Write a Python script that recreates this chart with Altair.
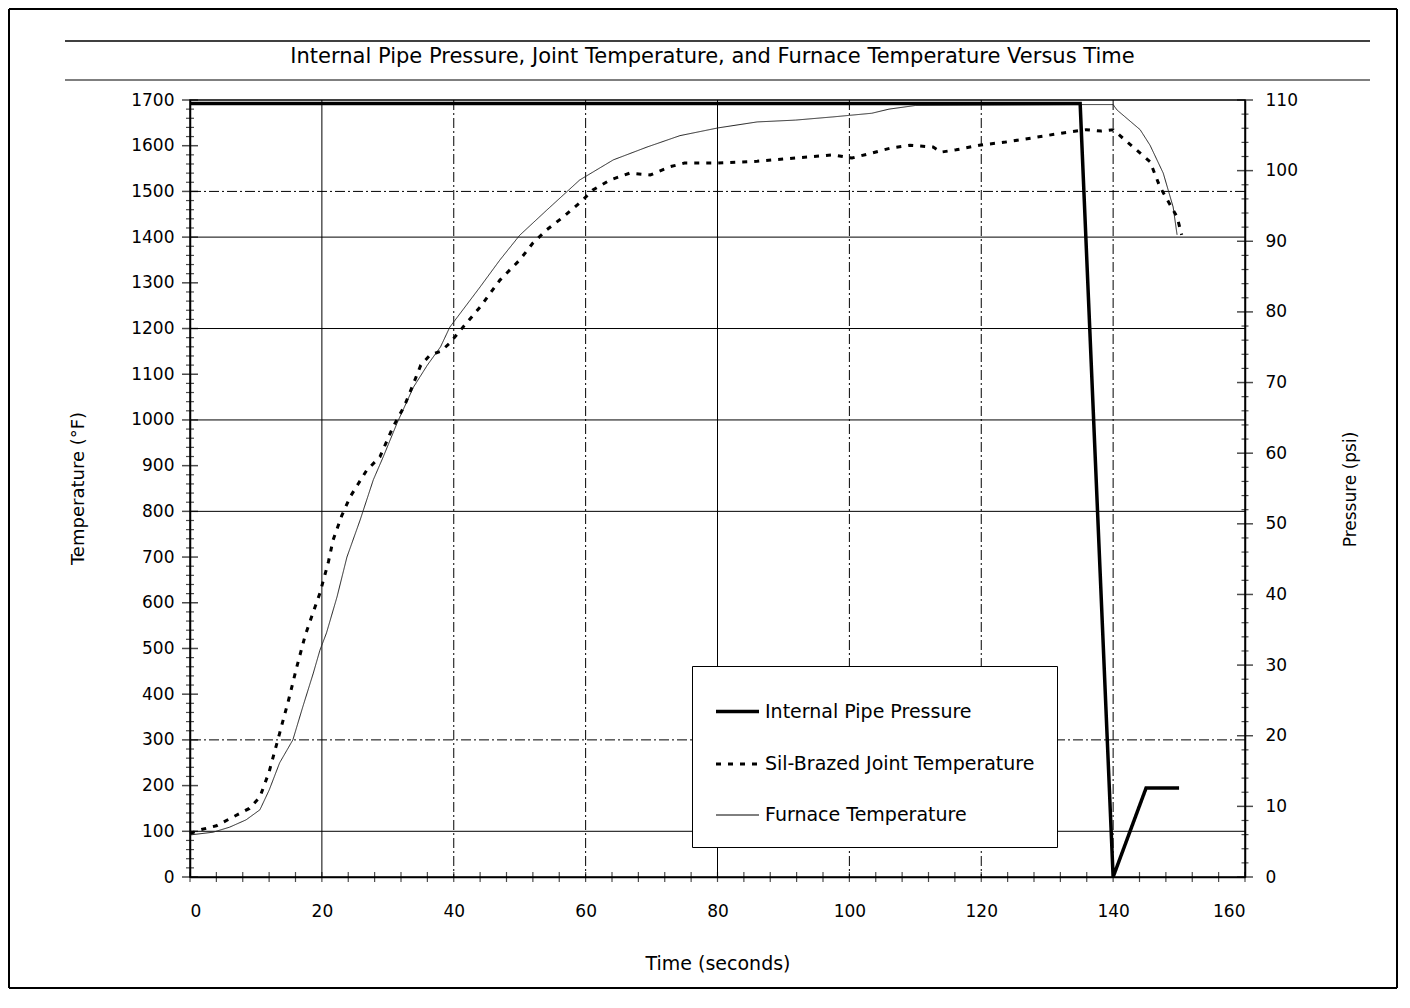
import altair as alt
import pandas as pd

FONT = "DejaVu Sans"

# ---------------- data ----------------
series_names = ["Internal Pipe Pressure", "Sil-Brazed Joint Temperature", "Furnace Temperature"]

press_t = [0, 135, 140, 145, 150]
press_v = [109.5, 109.5, 0, 12.6, 12.6]

joint_t = [0, 1.5, 4, 6.5, 9, 10.6, 12, 13.6, 15, 16.2, 17.5, 18.7, 19.7, 21, 21.7,
           23, 24.3, 25.5, 26.8, 28.8, 30.8, 32.5, 33.9, 35, 36.4, 38, 39.4, 41.4, 44, 47,
           50, 52, 54.1, 56.6, 59.1, 61.1, 63.7, 66.7, 69.8, 72.8, 75, 80, 86, 91.8, 97.5,
           100.4, 103.4, 106.3, 109.2, 112.7, 113.9, 116.2, 119.7, 123.7, 127.7, 132.4,
           135.9, 138.2, 140, 145.6, 147.1, 149.7, 150.4]
joint_v = [95, 103, 112, 131, 150, 175, 230, 315, 390, 460, 530, 580, 621, 690, 737,
           790, 832, 860, 890, 919, 985, 1030, 1080, 1120, 1142, 1150, 1168, 1203, 1247, 1306,
           1350, 1387, 1416, 1444, 1475, 1503, 1525, 1540, 1536, 1554, 1562, 1562, 1566, 1573, 1580,
           1573, 1584, 1595, 1601, 1597, 1586, 1591, 1601, 1608, 1617, 1628,
           1635, 1632, 1635, 1565, 1510, 1444, 1405]

furn_t = [0, 3.5, 6, 8.5, 10.6, 12, 13.6, 15.6, 17.1, 18.7, 19.7, 20.7, 22.3, 23.8, 25.8,
          27.8, 29.3, 31.4, 33.9, 36, 38, 39.4, 44, 47, 50, 54.1, 59.1, 64.2, 69.3, 74.3,
          80.1, 86, 91.8, 97.5, 103.4, 106, 110, 135, 140, 140.6, 144.1, 145.6, 147.6, 149.1, 149.7]
furn_v = [92, 98, 109, 125, 147, 190, 250, 300, 372, 446, 496, 534, 613, 700, 781,
          869, 919, 993, 1072, 1120, 1160, 1203, 1291, 1350, 1404, 1459, 1525, 1569, 1597, 1622,
          1639, 1652, 1656, 1663, 1671, 1680, 1688, 1690, 1690, 1678, 1635, 1601, 1540, 1466, 1405]

x_ticks = [0, 20, 40, 60, 80, 100, 120, 140, 160]
temp_ticks = [0, 100, 200, 300, 400, 500, 600, 700, 800, 900, 1000, 1100, 1200, 1300, 1400, 1500, 1600, 1700]
press_ticks = [0, 10, 20, 30, 40, 50, 60, 70, 80, 90, 100, 110]

grid_temp_solid = [100, 800, 1000, 1200, 1400]
grid_temp_dash = [300, 1500]
grid_time_solid = [20, 80]
grid_time_dash = [40, 60, 100, 120, 140]

title_text = "Internal Pipe Pressure, Joint Temperature, and Furnace Temperature Versus Time"

# ---------------- tables ----------------
df_press = pd.DataFrame({"t": press_t, "p": press_v, "series": series_names[0]})
df_joint = pd.DataFrame({"t": joint_t, "temp": joint_v, "series": series_names[1]})
df_furn = pd.DataFrame({"t": furn_t, "temp": furn_v, "series": series_names[2]})

minor_temp = [v for v in range(0, 1701, 20) if v % 100 != 0]
minor_press = [v for v in range(0, 111, 2) if v % 10 != 0]
minor_time = list(range(0, 161, 4))

df_lt_major = pd.DataFrame({"t": 0, "temp": temp_ticks})
df_lt_minor = pd.DataFrame({"t": 0, "temp": minor_temp})
df_xt = pd.DataFrame({"t": minor_time, "temp": 0})
df_rt_major = pd.DataFrame({"t": 160, "p": press_ticks})
df_rt_minor = pd.DataFrame({"t": 160, "p": minor_press})

W, H = 1055, 777

x_scale = alt.Scale(domain=[0, 160], nice=False, zero=False)
t_scale = alt.Scale(domain=[0, 1700], nice=False)
p_scale = alt.Scale(domain=[0, 110], nice=False)

x_axis = alt.Axis(values=x_ticks, format="d", title="Time (seconds)", labelFontSize=17, labelPadding=26,
                  titleFontSize=19, titleX=W / 2, titleY=86, titleBaseline="middle")
t_axis = alt.Axis(values=temp_ticks, format="d", title="Temperature (°F)", labelFontSize=17, labelPadding=16,
                  titleFontSize=18, titleAngle=270, titleX=-112, titleY=388,
                  titleBaseline="middle", titleAlign="center")
p_axis = alt.Axis(values=press_ticks, format="d", orient="right", title="Pressure (psi)", labelFontSize=17,
                  labelPadding=20, titleFontSize=17, titleAngle=270, titleX=105, titleY=389,
                  titleBaseline="middle", titleAlign="center")

X = alt.X("t:Q", scale=x_scale, axis=x_axis)
YT = alt.Y("temp:Q", scale=t_scale, axis=t_axis)
YP = alt.Y("p:Q", scale=p_scale, axis=p_axis)

legend = alt.Legend(title=None, orient="none", legendX=502, legendY=566, padding=22,
                    strokeColor="black", fillColor="white", symbolType="stroke",
                    symbolSize=1849, symbolStrokeColor="black", labelFontSize=19,
                    labelFont=FONT, labelColor="black", labelOffset=4, rowPadding=19,
                    labelLimit=500)
dash = alt.StrokeDash("series:N",
                      scale=alt.Scale(type="ordinal", domain=series_names, range=[[1, 0], [5, 7], [1, 0]]),
                      legend=legend)
swidth = alt.StrokeWidth("series:N",
                         scale=alt.Scale(type="ordinal", domain=series_names, range=[3.5, 3, 1]),
                         legend=legend)

# grid
g1 = alt.Chart(pd.DataFrame({"temp": grid_temp_solid})).mark_rule(color="black", strokeWidth=1).encode(y=YT)
g2 = alt.Chart(pd.DataFrame({"temp": grid_temp_dash})).mark_rule(color="black", strokeWidth=1, strokeDash=[10, 3, 2, 3]).encode(y=YT)
g3 = alt.Chart(pd.DataFrame({"t": grid_time_solid})).mark_rule(color="black", strokeWidth=1).encode(x=X)
g4 = alt.Chart(pd.DataFrame({"t": grid_time_dash})).mark_rule(color="black", strokeWidth=1, strokeDash=[10, 3, 2, 3]).encode(x=X)

# custom crossing ticks
lt1 = alt.Chart(df_lt_major).mark_tick(orient="horizontal", size=16, thickness=1.5, color="black").encode(x=X, y=YT)
lt2 = alt.Chart(df_lt_minor).mark_tick(orient="horizontal", size=8, thickness=1.2, color="black").encode(x=X, y=YT)
xt = alt.Chart(df_xt).mark_tick(orient="vertical", size=10, thickness=1.2, color="black").encode(x=X, y=YT)
rt1 = alt.Chart(df_rt_major).mark_tick(orient="horizontal", size=16, thickness=1.5, color="black").encode(x=X, y=YP)
rt2 = alt.Chart(df_rt_minor).mark_tick(orient="horizontal", size=7, thickness=1.2, color="black").encode(x=X, y=YP)

# lines
l_joint = alt.Chart(df_joint).mark_line(color="black", strokeCap="butt").encode(x=X, y=YT, strokeDash=dash, strokeWidth=swidth)
l_furn = alt.Chart(df_furn).mark_line(color="#222222").encode(x=X, y=YT, strokeDash=dash, strokeWidth=swidth)
l_press = alt.Chart(df_press).mark_line(color="black").encode(x=X, y=YP, strokeDash=dash, strokeWidth=swidth)

# decorative frame, title rules and title
base = alt.Chart(pd.DataFrame({"a": [0]}))
def hrule(x1, x2, y, w=1.5):
    return base.mark_rule(color="black", strokeWidth=w).encode(x=alt.value(x1), x2=alt.value(x2), y=alt.value(y))
def vrule(x, y1, y2, w=1.5):
    return base.mark_rule(color="black", strokeWidth=w).encode(x=alt.value(x), y=alt.value(y1), y2=alt.value(y2))

title_mark = base.mark_text(text=title_text, font=FONT, fontSize=21, color="black",
                            align="center", baseline="middle").encode(x=alt.value(W / 2 - 5), y=alt.value(-43))

frame = alt.layer(
    hrule(-181, 1207, -91, 2), hrule(-181, 1207, 888, 2),
    vrule(-181, -91, 888, 2), vrule(1207, -91, 888, 2),
    hrule(-125, 1180, -59, 1.5), hrule(-125, 1180, -20, 1.2),
    title_mark,
)

temp_group = alt.layer(g1, g2, g3, g4, lt1, lt2, xt, l_furn, l_joint)
press_group = alt.layer(rt1, rt2, l_press)

chart = alt.layer(temp_group, press_group, frame).resolve_scale(y="independent").properties(
    width=W, height=H,
    padding={"left": 182, "top": 92, "right": 153, "bottom": 121},
    autosize=alt.AutoSizeParams(type="none"),
).configure_view(stroke="black", strokeWidth=1.5).configure_axis(
    domainColor="black", domainWidth=1.5, ticks=False, grid=False,
    labelColor="black", titleColor="black", labelFont=FONT, titleFont=FONT,
    titleFontWeight="normal",
)

chart.save("out.html", embed_options={"renderer": "svg", "actions": False})
